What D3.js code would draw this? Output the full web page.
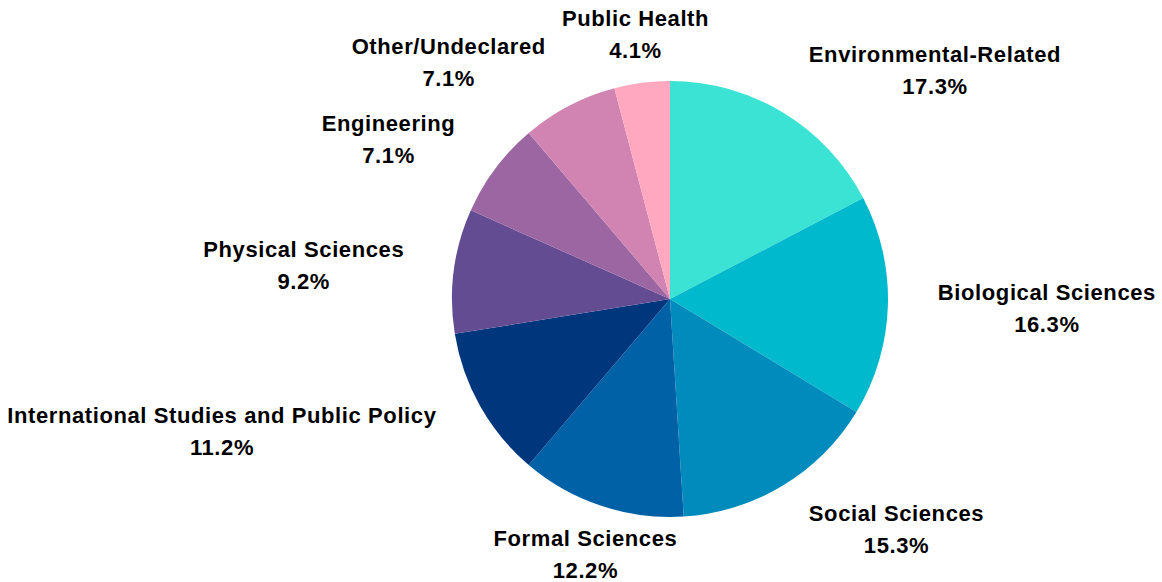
<!DOCTYPE html>
<html>
<head>
<meta charset="utf-8">
<script src="https://cdn.jsdelivr.net/npm/d3@7"></script>
<style>
  html, body { margin: 0; padding: 0; background: #ffffff; }
  svg { display: block; }
  text { font-family: "Liberation Sans", Arial, sans-serif; font-weight: bold; fill: #000; letter-spacing: 0.6px; }
</style>
</head>
<body>
<svg id="chart" width="1162" height="582"></svg>
<script>
// Share of students by field of study (percent)
const categories = [
  "Environmental-Related",
  "Biological Sciences",
  "Social Sciences",
  "Formal Sciences",
  "International Studies and Public Policy",
  "Physical Sciences",
  "Engineering",
  "Other/Undeclared",
  "Public Health"
];
const shares = [17.3, 16.3, 15.3, 12.2, 11.2, 9.2, 7.1, 7.1, 4.1];
const sliceColors = [
  "#3be3d4", "#00b9cc", "#008bbd", "#0061a6", "#00367c",
  "#634c91", "#9c66a3", "#d184b1", "#ffa8c0"
];

const width = 1162, height = 582;
const cx = 670, cy = 299, radius = 218;
const labelRadius = 268;
const fontSize = 22;
const lineGap = 16;
const baselineShift = 1;

const svg = d3.select("#chart");
const g = svg.append("g").attr("transform", `translate(${cx},${cy})`);

const data = categories.map((c, i) => ({ name: c, value: shares[i], color: sliceColors[i] }));

const pie = d3.pie().sort(null).value(d => d.value);
const arc = d3.arc().innerRadius(0).outerRadius(radius);
const arcs = pie(data);

g.selectAll("path.slice")
  .data(arcs)
  .join("path")
  .attr("class", "slice")
  .attr("d", arc)
  .attr("fill", d => d.data.color);

const fmt = d3.format(".1f");

const labels = g.selectAll("g.label")
  .data(arcs)
  .join("g")
  .attr("class", "label")
  .each(function (d) {
    const mid = (d.startAngle + d.endAngle) / 2;
    const s = Math.sin(mid), c = Math.cos(mid);
    const x = labelRadius * s, y = -labelRadius * c + baselineShift;
    const anchor = Math.abs(s) < 0.4 ? "middle" : (s > 0 ? "start" : "end");
    const sel = d3.select(this);
    sel.append("text")
      .attr("x", x).attr("y", y - lineGap)
      .attr("text-anchor", anchor)
      .attr("dominant-baseline", "central")
      .style("font-size", fontSize + "px")
      .text(d.data.name);
    sel.append("text")
      .attr("x", x).attr("y", y + lineGap)
      .attr("text-anchor", anchor)
      .attr("dominant-baseline", "central")
      .style("font-size", fontSize + "px")
      .text(fmt(d.data.value) + "%");
  });

// percentage lines are centred under their category names
labels.each(function () {
  const texts = d3.select(this).selectAll("text").nodes();
  const b0 = texts[0].getBBox();
  const centerX = b0.x + b0.width / 2;
  d3.select(texts[1]).attr("x", centerX).attr("text-anchor", "middle");
});
</script>
</body>
</html>
